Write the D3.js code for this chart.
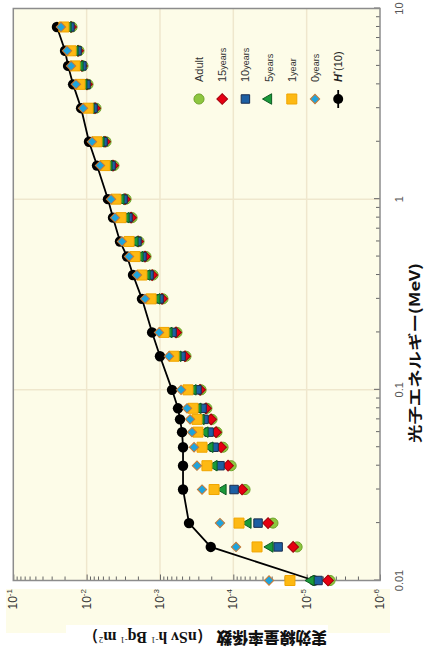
<!DOCTYPE html>
<html lang="ja">
<head>
<meta charset="utf-8">
<title>実効線量率係数</title>
<script src="https://cdn.jsdelivr.net/npm/d3@7"></script>
<style>
  body { margin: 0; background: #fff; }
  svg { display: block; font-family: "Liberation Sans", Arial, sans-serif; }
</style>
</head>
<body>
<div id="chart"></div>
<script>

// photon energy (MeV)
var energies = [0.01, 0.015, 0.02, 0.03, 0.04, 0.05, 0.06, 0.07, 0.08, 0.1, 0.15, 0.2, 0.3, 0.4, 0.5, 0.6, 0.8, 1, 1.5, 2, 3, 4, 5, 6, 8];

// effective dose rate coefficients (nSv h-1 Bq-1 m2)
var hp10   = [7.9e-6, 2.03e-4, 4.02e-4, 4.85e-4, 4.85e-4, 4.85e-4, 5.0e-4, 5.33e-4, 5.68e-4, 6.85e-4, 1.0e-3, 1.28e-3, 1.76e-3, 2.33e-3, 2.81e-3, 3.51e-3, 4.37e-3, 5.12e-3, 7.22e-3, 9.29e-3, 1.19e-2, 1.53e-2, 1.79e-2, 1.97e-2, 2.54e-2];
var age0   = [3.26e-5, 9.18e-5, 1.52e-4, 2.67e-4, 3.13e-4, 3.43e-4, 3.66e-4, 3.89e-4, 4.28e-4, 5.16e-4, 7.53e-4, 1.03e-3, 1.60e-3, 2.06e-3, 2.64e-3, 3.30e-3, 4.10e-3, 4.65e-3, 6.57e-3, 8.45e-3, 1.12e-2, 1.40e-2, 1.63e-2, 1.85e-2, 2.24e-2];
var age1   = [1.69e-5, 4.75e-5, 8.36e-5, 1.83e-4, 2.29e-4, 2.67e-4, 3.03e-4, 3.13e-4, 3.54e-4, 4.15e-4, 6.44e-4, 8.81e-4, 1.32e-3, 1.76e-3, 2.19e-3, 2.64e-3, 3.40e-3, 3.98e-3, 5.62e-3, 7.22e-3, 9.57e-3, 1.23e-2, 1.44e-2, 1.63e-2, 2.04e-2];
var age5   = [8.71e-6, 3.16e-5, 6.30e-5, 1.38e-4, 1.83e-4, 2.08e-4, 2.43e-4, 2.75e-4, 3.03e-4, 3.54e-4, 5.68e-4, 7.53e-4, 1.10e-3, 1.50e-3, 1.87e-3, 2.19e-3, 2.90e-3, 3.40e-3, 4.95e-3, 6.37e-3, 8.71e-3, 1.09e-2, 1.23e-2, 1.44e-2, 1.79e-2];
var age10  = [7.0e-6, 2.45e-5, 4.60e-5, 9.77e-5, 1.52e-4, 1.83e-4, 2.14e-4, 2.51e-4, 2.67e-4, 3.13e-4, 5.16e-4, 6.85e-4, 1.03e-3, 1.41e-3, 1.76e-3, 2.06e-3, 2.73e-3, 3.19e-3, 4.65e-3, 5.98e-3, 8.18e-3, 1.02e-2, 1.16e-2, 1.35e-2, 1.69e-2];
var age15  = [5.11e-6, 1.53e-5, 3.36e-5, 7.60e-5, 1.18e-4, 1.47e-4, 1.72e-4, 2.01e-4, 2.36e-4, 2.84e-4, 4.56e-4, 6.04e-4, 9.38e-4, 1.28e-3, 1.60e-3, 1.99e-3, 2.48e-3, 3.00e-3, 4.37e-3, 5.62e-3, 7.69e-3, 9.89e-3, 1.16e-2, 1.31e-2, 1.63e-2];
var adult  = [4.80e-6, 1.35e-5, 2.88e-5, 6.92e-5, 1.07e-4, 1.38e-4, 1.67e-4, 1.95e-4, 2.29e-4, 2.75e-4, 4.42e-4, 5.86e-4, 9.10e-4, 1.24e-3, 1.55e-3, 1.93e-3, 2.40e-3, 2.90e-3, 4.24e-3, 5.44e-3, 7.45e-3, 9.57e-3, 1.12e-2, 1.27e-2, 1.58e-2];

var energyTicks = [0.01, 0.1, 1, 10];
var energyTickLabels = ["0.01", "0.1", "1", "10"];
var doseTicks = [1e-1, 1e-2, 1e-3, 1e-4, 1e-5, 1e-6];
var doseTickExp = ["-1", "-2", "-3", "-4", "-5", "-6"];

/*
 * series, drawn from the back (adult) to the front (0 years)
 */
var series = [
  {key: "adult", values: adult, num: "Adult", unit: "",      type: d3.symbolCircle,   size: 80,  rot: 0,  fill: "#8dc63f", stroke: "#6fa32c"},
  {key: "15y",   values: age15, num: "15",    unit: "years", type: d3.symbolSquare,   size: 58,  rot: 45, fill: "#e60012", stroke: "#a0000c"},
  {key: "10y",   values: age10, num: "10",    unit: "years", type: d3.symbolSquare,   size: 72,  rot: 0,  fill: "#1d5fa3", stroke: "#1b2d4f"},
  {key: "5y",    values: age5,  num: "5",     unit: "years", type: d3.symbolTriangle, size: 48,  rot: 0,  fill: "#1a9a3a", stroke: "#0d5b22"},
  {key: "1y",    values: age1,  num: "1",     unit: "year",  type: d3.symbolSquare,   size: 100, rot: 0,  fill: "#fdb913", stroke: "#f0a500"},
  {key: "0y",    values: age0,  num: "0",     unit: "years", type: d3.symbolSquare,   size: 44,  rot: 45, fill: "#1fa3dc", stroke: "#c87a35"}
];

// the chart is laid out lying down (energy left -> right) and turned a quarter left
var W = 657, H = 424;

var svg = d3.select("#chart").append("svg")
    .attr("width", H)
    .attr("height", W);

var g = svg.append("g").attr("transform", "translate(0," + W + ") rotate(-90)");

var x = d3.scaleLog().domain([0.01, 10]).range([76.5, 648.5]);
var y = d3.scaleLog().domain([1e-6, 1e-1]).range([380, 13.3]);

/*
 * backgrounds
 */
g.append("rect").attr("x", 24).attr("y", 6).attr("width", 44).attr("height", 384).attr("fill", "#fdfce8");
g.append("rect").attr("x", 0).attr("y", 66).attr("width", 32).attr("height", 262).attr("fill", "#fff");
g.append("rect")
  .attr("x", x.range()[0]).attr("y", y.range()[1])
  .attr("width", x.range()[1] - x.range()[0])
  .attr("height", y.range()[0] - y.range()[1])
  .attr("fill", "#fdfce8");

// grid
g.selectAll(".gx").data([0.1, 1]).enter().append("line")
  .attr("x1", function(d){ return x(d) }).attr("x2", function(d){ return x(d) })
  .attr("y1", y.range()[1]).attr("y2", y.range()[0])
  .attr("stroke", "#efe7cd").attr("stroke-width", 1.5);

g.selectAll(".gy").data([1e-2, 1e-3, 1e-4, 1e-5]).enter().append("line")
  .attr("x1", x.range()[0]).attr("x2", x.range()[1])
  .attr("y1", function(d){ return y(d) }).attr("y2", function(d){ return y(d) })
  .attr("stroke", "#efe7cd").attr("stroke-width", 1.5);

/*
 * axes (ticks inside the frame, labels drawn by hand)
 */
var xAxis = d3.axisBottom(x).tickValues(x.ticks()).tickSizeInner(-4).tickSizeOuter(0).tickFormat("");
var gX = g.append("g").attr("transform", "translate(0," + y.range()[0] + ")").call(xAxis);
gX.selectAll(".tick line").attr("y2", function(d){ return energyTicks.indexOf(d) >= 0 ? -6 : -4 });

var yAxis = d3.axisLeft(y).tickValues(y.ticks()).tickSizeInner(-4).tickSizeOuter(0).tickFormat("");
var gY = g.append("g").attr("transform", "translate(" + x.range()[0] + ",0)").call(yAxis);
gY.selectAll(".tick line").attr("x2", function(d){ return doseTicks.indexOf(d) >= 0 ? 6 : 4 });

g.selectAll(".domain").remove();
g.selectAll(".tick line").attr("stroke", "#666").attr("stroke-width", 1);

g.append("rect")
  .attr("x", x.range()[0]).attr("y", y.range()[1])
  .attr("width", x.range()[1] - x.range()[0])
  .attr("height", y.range()[0] - y.range()[1])
  .attr("fill", "none").attr("stroke", "#8c8c8c").attr("stroke-width", 1.5);

g.selectAll(".elab").data(energyTicks).enter().append("text")
  .attr("x", function(d){ return x(d) })
  .attr("y", 403)
  .attr("text-anchor", "middle")
  .attr("font-size", 11)
  .attr("fill", "#555")
  .text(function(d, i){ return energyTickLabels[i] });

var dl = g.selectAll(".dlab").data(doseTicks).enter().append("text")
  .attr("x", 68)
  .attr("y", function(d){ return y(d) + 4 })
  .attr("text-anchor", "end")
  .attr("font-size", 12)
  .attr("fill", "#333");
dl.append("tspan").text("10");
dl.append("tspan").attr("font-size", 8).attr("dy", -5).text(function(d, i){ return doseTickExp[i] });

// axis titles
g.append("text")
  .attr("x", 304).attr("y", 420)
  .attr("text-anchor", "middle")
  .attr("font-family", "'Noto Sans CJK JP', sans-serif")
  .attr("font-weight", 700)
  .attr("font-size", 14)
  .attr("textLength", 180)
  .attr("lengthAdjust", "spacingAndGlyphs")
  .attr("fill", "#111")
  .text("光子エネルギー(MeV)");

var yt = g.append("text")
  .attr("transform", "translate(25,205) rotate(-90)")
  .attr("text-anchor", "middle")
  .attr("font-size", 16)
  .attr("textLength", 244)
  .attr("lengthAdjust", "spacingAndGlyphs")
  .attr("fill", "#111");
yt.append("tspan").attr("font-family", "'Noto Sans CJK JP', sans-serif").attr("font-weight", 900).text("実効線量率係数");
yt.append("tspan").attr("font-family", "'Liberation Serif', serif").attr("font-weight", 700).text(" （nSv h");
yt.append("tspan").attr("font-family", "'Liberation Serif', serif").attr("font-size", 9).attr("dy", -5).text("-1");
yt.append("tspan").attr("font-family", "'Liberation Serif', serif").attr("font-weight", 700).attr("dy", 5).text(" Bq");
yt.append("tspan").attr("font-family", "'Liberation Serif', serif").attr("font-size", 9).attr("dy", -5).text("-1");
yt.append("tspan").attr("font-family", "'Liberation Serif', serif").attr("font-weight", 700).attr("dy", 5).text(" m");
yt.append("tspan").attr("font-family", "'Liberation Serif', serif").attr("font-size", 9).attr("dy", -5).text("2");
yt.append("tspan").attr("font-family", "'Liberation Serif', serif").attr("font-weight", 700).attr("dy", 5).text("）");

/*
 * H*(10) line + dots, then the age groups on top
 */
var line = d3.line()
  .x(function(d, i){ return x(energies[i]) })
  .y(function(d){ return y(d) });

g.append("path")
  .datum(hp10)
  .attr("d", line)
  .attr("fill", "none")
  .attr("stroke", "#000")
  .attr("stroke-width", 1.8);

g.selectAll(".hp").data(hp10).enter().append("circle")
  .attr("cx", function(d, i){ return x(energies[i]) })
  .attr("cy", function(d){ return y(d) })
  .attr("r", 5.2)
  .attr("fill", "#000");

function symbolPath(s) {
  return d3.symbol().type(s.type).size(s.size)();
}

series.forEach(function(s){
  g.append("g").attr("class", "series-" + s.key)
    .selectAll("path").data(s.values).enter().append("path")
    .attr("d", symbolPath(s))
    .attr("transform", function(d, i){
      return "translate(" + x(energies[i]) + "," + y(d) + ") rotate(" + s.rot + ")";
    })
    .attr("fill", s.fill)
    .attr("stroke", s.stroke)
    .attr("stroke-width", 1);
});

/*
 * legend
 */
var legU = 558, legV0 = 199, legStep = 23.2;
var leg = g.append("g");

series.forEach(function(s, i){
  var v = legV0 + i * legStep;
  leg.append("path")
    .attr("d", symbolPath(s))
    .attr("transform", "translate(" + legU + "," + v + ") rotate(" + s.rot + ")")
    .attr("fill", s.fill).attr("stroke", s.stroke).attr("stroke-width", 1);
  var t = leg.append("text")
    .attr("x", legU + 17).attr("y", v + 4)
    .attr("font-size", 11).attr("fill", "#333");
  t.append("tspan").text(s.num);
  if (s.unit) t.append("tspan").attr("font-size", 9).text(s.unit);
});

var vh = legV0 + series.length * legStep;
leg.append("line")
  .attr("x1", legU - 9).attr("x2", legU + 9)
  .attr("y1", vh).attr("y2", vh)
  .attr("stroke", "#000").attr("stroke-width", 1.8);
leg.append("circle").attr("cx", legU).attr("cy", vh).attr("r", 5).attr("fill", "#000");
var th = leg.append("text")
  .attr("x", legU + 17).attr("y", vh + 4)
  .attr("font-size", 11).attr("fill", "#222");
th.append("tspan").attr("font-style", "italic").attr("font-weight", 700).text("H");
th.append("tspan").attr("font-size", 8).attr("dy", -4).text("*");
th.append("tspan").attr("dy", 4).text("(10)");

</script>
</body>
</html>
